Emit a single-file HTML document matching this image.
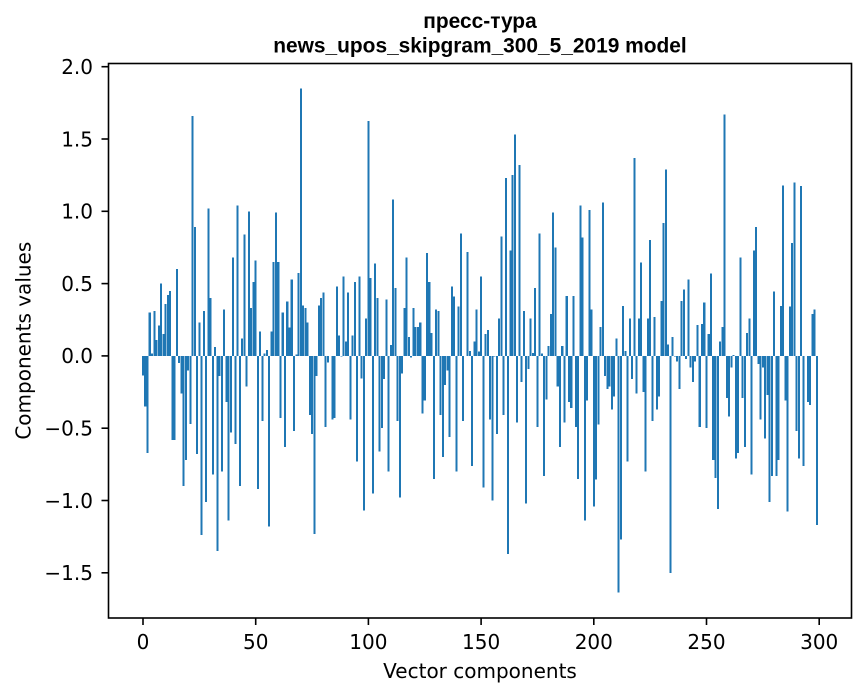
<!DOCTYPE html>
<html><head><meta charset="utf-8"><style>
html,body{margin:0;padding:0;background:#fff;}
svg{display:block;}
text{font-family:"DejaVu Sans","Liberation Sans",sans-serif;fill:#000;}
.t{font-family:"Liberation Sans","DejaVu Sans",sans-serif;font-weight:bold;font-size:20.9px;}
</style></head><body>
<svg width="867" height="696" viewBox="0 0 867 696" xmlns="http://www.w3.org/2000/svg">
<rect x="0" y="0" width="867" height="696" fill="#fff"/>
<g transform="translate(143,355.9) scale(2.254,-144.6)" fill="#1f77b4" shape-rendering="crispEdges">
<g transform="translate(-0.05,0)">
<rect x="-0.4" y="-0.136" width="0.9" height="0.136"/>
<rect x="0.6" y="-0.35" width="0.9" height="0.35"/>
<rect x="1.6" y="-0.67" width="0.9" height="0.67"/>
<rect x="2.6" width="0.9" height="0.30"/>
<rect x="3.6" width="0.9" height="0.015"/>
<rect x="4.6" width="0.9" height="0.31"/>
<rect x="5.6" width="0.9" height="0.11"/>
<rect x="6.6" width="0.9" height="0.21"/>
<rect x="7.6" width="0.9" height="0.50"/>
<rect x="8.6" width="0.9" height="0.15"/>
<rect x="9.6" width="0.9" height="0.36"/>
<rect x="10.6" width="0.9" height="0.42"/>
<rect x="11.6" width="0.9" height="0.45"/>
<rect x="12.6" y="-0.58" width="0.9" height="0.58"/>
<rect x="13.6" y="-0.58" width="0.9" height="0.58"/>
<rect x="14.6" width="0.9" height="0.60"/>
<rect x="15.6" y="-0.05" width="0.9" height="0.05"/>
<rect x="16.6" y="-0.26" width="0.9" height="0.26"/>
<rect x="17.6" y="-0.90" width="0.9" height="0.90"/>
<rect x="18.6" y="-0.72" width="0.9" height="0.72"/>
<rect x="19.6" y="-0.10" width="0.9" height="0.10"/>
<rect x="20.6" y="-0.47" width="0.9" height="0.47"/>
<rect x="21.6" width="0.9" height="1.66"/>
<rect x="22.6" width="0.9" height="0.89"/>
<rect x="23.6" y="-0.68" width="0.9" height="0.68"/>
<rect x="24.6" width="0.9" height="0.23"/>
<rect x="25.6" y="-1.24" width="0.9" height="1.24"/>
<rect x="26.6" width="0.9" height="0.31"/>
<rect x="27.6" y="-1.01" width="0.9" height="1.01"/>
<rect x="28.6" width="0.9" height="1.02"/>
<rect x="29.6" width="0.9" height="0.40"/>
<rect x="30.6" y="-0.82" width="0.9" height="0.82"/>
<rect x="31.6" width="0.9" height="0.06"/>
<rect x="32.6" y="-1.35" width="0.9" height="1.35"/>
<rect x="33.6" y="-0.14" width="0.9" height="0.14"/>
<rect x="34.6" y="-0.80" width="0.9" height="0.80"/>
<rect x="35.6" width="0.9" height="0.32"/>
<rect x="36.6" y="-0.32" width="0.9" height="0.32"/>
<rect x="37.6" y="-1.14" width="0.9" height="1.14"/>
<rect x="38.6" y="-0.53" width="0.9" height="0.53"/>
<rect x="39.6" width="0.9" height="0.68"/>
<rect x="40.6" y="-0.61" width="0.9" height="0.61"/>
<rect x="41.6" width="0.9" height="1.04"/>
<rect x="42.6" y="-0.90" width="0.9" height="0.90"/>
<rect x="43.6" width="0.9" height="0.12"/>
<rect x="44.6" width="0.9" height="0.84"/>
<rect x="45.6" y="-0.21" width="0.9" height="0.21"/>
<rect x="46.6" width="0.9" height="1.00"/>
<rect x="47.6" width="0.9" height="0.33"/>
<rect x="48.6" width="0.9" height="0.51"/>
<rect x="49.6" width="0.9" height="0.66"/>
<rect x="50.6" y="-0.92" width="0.9" height="0.92"/>
<rect x="51.6" width="0.9" height="0.17"/>
<rect x="52.6" y="-0.45" width="0.9" height="0.45"/>
<rect x="53.6" width="0.9" height="0.015"/>
<rect x="54.6" width="0.9" height="0.04"/>
<rect x="55.6" y="-1.18" width="0.9" height="1.18"/>
<rect x="56.6" width="0.9" height="0.17"/>
<rect x="57.6" width="0.9" height="0.65"/>
<rect x="58.6" width="0.9" height="0.99"/>
<rect x="59.6" width="0.9" height="0.65"/>
<rect x="60.6" y="-0.43" width="0.9" height="0.43"/>
<rect x="61.6" width="0.9" height="0.30"/>
<rect x="62.6" y="-0.63" width="0.9" height="0.63"/>
<rect x="63.6" width="0.9" height="0.375"/>
<rect x="64.6" width="0.9" height="0.195"/>
<rect x="65.6" width="0.9" height="0.53"/>
<rect x="66.6" y="-0.52" width="0.9" height="0.52"/>
<rect x="67.6" width="0.9" height="0.01"/>
<rect x="68.6" width="0.9" height="0.575"/>
<rect x="69.6" width="0.9" height="1.85"/>
<rect x="70.6" width="0.9" height="0.35"/>
<rect x="71.6" width="0.9" height="0.33"/>
<rect x="72.6" width="0.9" height="0.23"/>
<rect x="73.6" y="-0.41" width="0.9" height="0.41"/>
<rect x="74.6" y="-0.54" width="0.9" height="0.54"/>
<rect x="75.6" y="-1.23" width="0.9" height="1.23"/>
<rect x="76.6" y="-0.14" width="0.9" height="0.14"/>
<rect x="77.6" width="0.9" height="0.35"/>
<rect x="78.6" width="0.9" height="0.40"/>
<rect x="79.6" width="0.9" height="0.44"/>
<rect x="80.6" y="-0.49" width="0.9" height="0.49"/>
<rect x="81.6" y="-0.045" width="0.9" height="0.045"/>
<rect x="83.6" y="-0.44" width="0.9" height="0.44"/>
<rect x="84.6" y="-0.43" width="0.9" height="0.43"/>
<rect x="85.6" width="0.9" height="0.48"/>
<rect x="86.6" width="0.9" height="0.14"/>
<rect x="87.6" y="-0.005" width="0.9" height="0.005"/>
<rect x="88.6" width="0.9" height="0.55"/>
<rect x="89.6" width="0.9" height="0.10"/>
<rect x="90.6" width="0.9" height="0.44"/>
<rect x="91.6" y="-0.44" width="0.9" height="0.44"/>
<rect x="92.6" width="0.9" height="0.14"/>
<rect x="93.6" width="0.9" height="0.51"/>
<rect x="94.6" y="-0.73" width="0.9" height="0.73"/>
<rect x="95.6" width="0.9" height="0.55"/>
<rect x="96.6" y="-0.155" width="0.9" height="0.155"/>
<rect x="97.6" y="-1.07" width="0.9" height="1.07"/>
<rect x="98.6" width="0.9" height="0.26"/>
<rect x="99.6" width="0.9" height="1.625"/>
<rect x="100.6" width="0.9" height="0.54"/>
<rect x="101.6" y="-0.95" width="0.9" height="0.95"/>
<rect x="102.6" width="0.9" height="0.64"/>
<rect x="103.6" width="0.9" height="0.40"/>
<rect x="104.6" y="-0.66" width="0.9" height="0.66"/>
<rect x="105.6" y="-0.50" width="0.9" height="0.50"/>
<rect x="106.6" y="-0.16" width="0.9" height="0.16"/>
<rect x="107.6" width="0.9" height="0.39"/>
<rect x="108.6" y="-0.80" width="0.9" height="0.80"/>
<rect x="109.6" width="0.9" height="0.077"/>
<rect x="110.6" width="0.9" height="1.08"/>
<rect x="111.6" width="0.9" height="0.47"/>
<rect x="112.6" y="-0.45" width="0.9" height="0.45"/>
<rect x="113.6" y="-0.98" width="0.9" height="0.98"/>
<rect x="114.6" y="-0.12" width="0.9" height="0.12"/>
<rect x="115.6" width="0.9" height="0.33"/>
<rect x="116.6" width="0.9" height="0.68"/>
<rect x="117.6" width="0.9" height="0.13"/>
<rect x="118.6" y="-0.01" width="0.9" height="0.01"/>
<rect x="119.6" width="0.9" height="0.33"/>
<rect x="120.6" width="0.9" height="0.20"/>
<rect x="121.6" width="0.9" height="0.20"/>
<rect x="122.6" width="0.9" height="0.23"/>
<rect x="123.6" y="-0.40" width="0.9" height="0.40"/>
<rect x="124.6" y="-0.31" width="0.9" height="0.31"/>
<rect x="125.6" width="0.9" height="0.71"/>
<rect x="126.6" width="0.9" height="0.51"/>
<rect x="127.6" width="0.9" height="0.16"/>
<rect x="128.6" y="-0.85" width="0.9" height="0.85"/>
<rect x="129.6" width="0.9" height="0.32"/>
<rect x="130.6" width="0.9" height="0.31"/>
<rect x="131.6" y="-0.41" width="0.9" height="0.41"/>
<rect x="132.6" y="-0.70" width="0.9" height="0.70"/>
<rect x="133.6" y="-0.20" width="0.9" height="0.20"/>
<rect x="134.6" y="-0.10" width="0.9" height="0.10"/>
<rect x="135.6" y="-0.56" width="0.9" height="0.56"/>
<rect x="136.6" width="0.9" height="0.48"/>
<rect x="137.6" width="0.9" height="0.41"/>
<rect x="138.6" y="-0.80" width="0.9" height="0.80"/>
<rect x="139.6" width="0.9" height="0.34"/>
<rect x="140.6" width="0.9" height="0.845"/>
<rect x="141.6" y="-0.45" width="0.9" height="0.45"/>
<rect x="143.6" width="0.9" height="0.72"/>
<rect x="144.6" width="0.9" height="0.035"/>
<rect x="145.6" y="-0.76" width="0.9" height="0.76"/>
<rect x="146.6" width="0.9" height="0.10"/>
<rect x="147.6" width="0.9" height="0.32"/>
<rect x="148.6" width="0.9" height="0.03"/>
<rect x="149.6" width="0.9" height="0.55"/>
<rect x="150.6" y="-0.91" width="0.9" height="0.91"/>
<rect x="151.6" width="0.9" height="0.15"/>
<rect x="152.6" width="0.9" height="0.18"/>
<rect x="153.6" y="-0.44" width="0.9" height="0.44"/>
<rect x="154.6" y="-1.00" width="0.9" height="1.00"/>
<rect x="155.6" y="-0.005" width="0.9" height="0.005"/>
<rect x="156.6" y="-0.54" width="0.9" height="0.54"/>
<rect x="157.6" width="0.9" height="0.26"/>
<rect x="158.6" width="0.9" height="0.825"/>
<rect x="159.6" y="-0.41" width="0.9" height="0.41"/>
<rect x="160.6" width="0.9" height="1.23"/>
<rect x="161.6" y="-1.37" width="0.9" height="1.37"/>
<rect x="162.6" width="0.9" height="0.73"/>
<rect x="163.6" width="0.9" height="1.25"/>
<rect x="164.6" width="0.9" height="1.53"/>
<rect x="165.6" y="-0.46" width="0.9" height="0.46"/>
<rect x="166.6" width="0.9" height="1.32"/>
<rect x="167.6" y="-0.18" width="0.9" height="0.18"/>
<rect x="168.6" width="0.9" height="0.31"/>
<rect x="169.6" y="-1.02" width="0.9" height="1.02"/>
<rect x="170.6" y="-0.09" width="0.9" height="0.09"/>
<rect x="171.6" width="0.9" height="0.26"/>
<rect x="172.6" width="0.9" height="0.02"/>
<rect x="173.6" width="0.9" height="0.47"/>
<rect x="174.6" y="-0.49" width="0.9" height="0.49"/>
<rect x="175.6" width="0.9" height="0.845"/>
<rect x="176.6" width="0.9" height="0.015"/>
<rect x="177.6" y="-0.83" width="0.9" height="0.83"/>
<rect x="178.6" y="-0.30" width="0.9" height="0.30"/>
<rect x="179.6" width="0.9" height="0.07"/>
<rect x="180.6" width="0.9" height="0.29"/>
<rect x="181.6" width="0.9" height="0.99"/>
<rect x="182.6" width="0.9" height="0.75"/>
<rect x="183.6" y="-0.21" width="0.9" height="0.21"/>
<rect x="184.6" y="-0.63" width="0.9" height="0.63"/>
<rect x="185.6" width="0.9" height="0.07"/>
<rect x="186.6" y="-0.46" width="0.9" height="0.46"/>
<rect x="187.6" width="0.9" height="0.415"/>
<rect x="188.6" y="-0.32" width="0.9" height="0.32"/>
<rect x="189.6" y="-0.36" width="0.9" height="0.36"/>
<rect x="190.6" width="0.9" height="0.415"/>
<rect x="191.6" y="-0.49" width="0.9" height="0.49"/>
<rect x="192.6" y="-0.85" width="0.9" height="0.85"/>
<rect x="193.6" width="0.9" height="1.04"/>
<rect x="194.6" width="0.9" height="0.82"/>
<rect x="195.6" y="-1.14" width="0.9" height="1.14"/>
<rect x="196.6" y="-0.31" width="0.9" height="0.31"/>
<rect x="197.6" width="0.9" height="1.01"/>
<rect x="198.6" width="0.9" height="0.32"/>
<rect x="199.6" y="-1.04" width="0.9" height="1.04"/>
<rect x="200.6" y="-0.855" width="0.9" height="0.855"/>
<rect x="201.6" y="-0.475" width="0.9" height="0.475"/>
<rect x="202.6" width="0.9" height="0.20"/>
<rect x="203.6" width="0.9" height="1.06"/>
<rect x="204.6" y="-0.14" width="0.9" height="0.14"/>
<rect x="205.6" y="-0.23" width="0.9" height="0.23"/>
<rect x="206.6" y="-0.21" width="0.9" height="0.21"/>
<rect x="207.6" y="-0.37" width="0.9" height="0.37"/>
<rect x="208.6" y="-0.28" width="0.9" height="0.28"/>
<rect x="209.6" width="0.9" height="0.12"/>
<rect x="210.6" y="-1.635" width="0.9" height="1.635"/>
<rect x="211.6" y="-1.27" width="0.9" height="1.27"/>
<rect x="212.6" width="0.9" height="0.345"/>
<rect x="213.6" width="0.9" height="0.035"/>
<rect x="214.6" y="-0.73" width="0.9" height="0.73"/>
<rect x="215.6" width="0.9" height="0.26"/>
<rect x="216.6" y="-0.16" width="0.9" height="0.16"/>
<rect x="217.6" width="0.9" height="1.37"/>
<rect x="218.6" y="-0.26" width="0.9" height="0.26"/>
<rect x="219.6" width="0.9" height="0.26"/>
<rect x="220.6" width="0.9" height="0.645"/>
<rect x="221.6" y="-0.25" width="0.9" height="0.25"/>
<rect x="222.6" y="-0.80" width="0.9" height="0.80"/>
<rect x="223.6" width="0.9" height="0.26"/>
<rect x="224.6" width="0.9" height="0.80"/>
<rect x="225.6" y="-0.45" width="0.9" height="0.45"/>
<rect x="226.6" width="0.9" height="0.27"/>
<rect x="227.6" y="-0.37" width="0.9" height="0.37"/>
<rect x="228.6" y="-0.28" width="0.9" height="0.28"/>
<rect x="229.6" width="0.9" height="0.38"/>
<rect x="230.6" width="0.9" height="0.92"/>
<rect x="231.6" width="0.9" height="1.29"/>
<rect x="232.6" width="0.9" height="0.08"/>
<rect x="233.6" y="-1.50" width="0.9" height="1.50"/>
<rect x="234.6" width="0.9" height="0.13"/>
<rect x="235.6" y="-0.005" width="0.9" height="0.005"/>
<rect x="236.6" y="-0.04" width="0.9" height="0.04"/>
<rect x="237.6" y="-0.23" width="0.9" height="0.23"/>
<rect x="238.6" width="0.9" height="0.38"/>
<rect x="239.6" width="0.9" height="0.46"/>
<rect x="240.6" y="-0.02" width="0.9" height="0.02"/>
<rect x="241.6" width="0.9" height="0.53"/>
<rect x="242.6" y="-0.08" width="0.9" height="0.08"/>
<rect x="243.6" y="-0.18" width="0.9" height="0.18"/>
<rect x="244.6" y="-0.04" width="0.9" height="0.04"/>
<rect x="245.6" width="0.9" height="0.215"/>
<rect x="246.6" y="-0.49" width="0.9" height="0.49"/>
<rect x="247.6" width="0.9" height="0.22"/>
<rect x="248.6" width="0.9" height="0.37"/>
<rect x="249.6" y="-0.50" width="0.9" height="0.50"/>
<rect x="250.6" width="0.9" height="0.15"/>
<rect x="251.6" width="0.9" height="0.57"/>
<rect x="252.6" y="-0.72" width="0.9" height="0.72"/>
<rect x="253.6" y="-0.845" width="0.9" height="0.845"/>
<rect x="254.6" y="-1.06" width="0.9" height="1.06"/>
<rect x="255.6" width="0.9" height="0.10"/>
<rect x="256.6" width="0.9" height="0.20"/>
<rect x="257.6" width="0.9" height="1.67"/>
<rect x="258.6" y="-0.29" width="0.9" height="0.29"/>
<rect x="259.6" y="-0.42" width="0.9" height="0.42"/>
<rect x="260.6" y="-0.08" width="0.9" height="0.08"/>
<rect x="261.6" width="0.9" height="0.007"/>
<rect x="262.6" y="-0.71" width="0.9" height="0.71"/>
<rect x="263.6" y="-0.67" width="0.9" height="0.67"/>
<rect x="264.6" width="0.9" height="0.68"/>
<rect x="265.6" y="-0.29" width="0.9" height="0.29"/>
<rect x="266.6" y="-0.63" width="0.9" height="0.63"/>
<rect x="267.6" width="0.9" height="0.16"/>
<rect x="268.6" width="0.9" height="0.26"/>
<rect x="269.6" y="-0.82" width="0.9" height="0.82"/>
<rect x="270.6" width="0.9" height="0.73"/>
<rect x="271.6" width="0.9" height="0.89"/>
<rect x="272.6" y="-0.055" width="0.9" height="0.055"/>
<rect x="273.6" y="-0.44" width="0.9" height="0.44"/>
<rect x="274.6" y="-0.08" width="0.9" height="0.08"/>
<rect x="275.6" y="-0.57" width="0.9" height="0.57"/>
<rect x="276.6" y="-0.27" width="0.9" height="0.27"/>
<rect x="277.6" y="-1.01" width="0.9" height="1.01"/>
<rect x="278.6" y="-0.83" width="0.9" height="0.83"/>
<rect x="279.6" width="0.9" height="0.445"/>
<rect x="280.6" y="-0.83" width="0.9" height="0.83"/>
<rect x="281.6" y="-0.72" width="0.9" height="0.72"/>
<rect x="282.6" width="0.9" height="0.345"/>
<rect x="283.6" width="0.9" height="1.18"/>
<rect x="284.6" y="-0.31" width="0.9" height="0.31"/>
<rect x="285.6" y="-1.075" width="0.9" height="1.075"/>
<rect x="286.6" width="0.9" height="0.34"/>
<rect x="287.6" width="0.9" height="0.78"/>
<rect x="288.6" width="0.9" height="1.20"/>
<rect x="289.6" y="-0.52" width="0.9" height="0.52"/>
<rect x="290.6" y="-0.71" width="0.9" height="0.71"/>
<rect x="291.6" width="0.9" height="1.175"/>
<rect x="292.6" y="-0.76" width="0.9" height="0.76"/>
<rect x="294.6" y="-0.32" width="0.9" height="0.32"/>
<rect x="295.6" y="-0.34" width="0.9" height="0.34"/>
<rect x="296.6" width="0.9" height="0.29"/>
<rect x="297.6" width="0.9" height="0.32"/>
<rect x="298.6" y="-1.17" width="0.9" height="1.17"/>
</g>
</g>
<!-- spines -->
<rect x="108.5" y="63.5" width="743" height="554.5" fill="none" stroke="#000" stroke-width="1.6"/>
<!-- ticks -->
<g stroke="#000" stroke-width="1.6">
<line x1="101.5" y1="66.7" x2="108.5" y2="66.7"/>
<line x1="101.5" y1="139" x2="108.5" y2="139"/>
<line x1="101.5" y1="211.3" x2="108.5" y2="211.3"/>
<line x1="101.5" y1="283.6" x2="108.5" y2="283.6"/>
<line x1="101.5" y1="355.9" x2="108.5" y2="355.9"/>
<line x1="101.5" y1="428.2" x2="108.5" y2="428.2"/>
<line x1="101.5" y1="500.5" x2="108.5" y2="500.5"/>
<line x1="101.5" y1="572.8" x2="108.5" y2="572.8"/>
<line x1="143" y1="618" x2="143" y2="625"/>
<line x1="255.7" y1="618" x2="255.7" y2="625"/>
<line x1="368.4" y1="618" x2="368.4" y2="625"/>
<line x1="481.1" y1="618" x2="481.1" y2="625"/>
<line x1="593.8" y1="618" x2="593.8" y2="625"/>
<line x1="706.5" y1="618" x2="706.5" y2="625"/>
<line x1="819.2" y1="618" x2="819.2" y2="625"/>
</g>
<g font-size="20" text-anchor="end">
<text x="93" y="74">2.0</text>
<text x="93" y="146.3">1.5</text>
<text x="93" y="218.6">1.0</text>
<text x="93" y="290.9">0.5</text>
<text x="93" y="363.2">0.0</text>
<text x="93" y="435.5">−0.5</text>
<text x="93" y="507.8">−1.0</text>
<text x="93" y="580.1">−1.5</text>
</g>
<g font-size="20" text-anchor="middle">
<text x="143" y="649">0</text>
<text x="255.7" y="649">50</text>
<text x="368.4" y="649">100</text>
<text x="481.1" y="649">150</text>
<text x="593.8" y="649">200</text>
<text x="706.5" y="649">250</text>
<text x="819.2" y="649">300</text>
<text x="480" y="678">Vector components</text>
<text transform="translate(30.5,340.7) rotate(-90)">Components values</text>
</g>
<text class="t" x="480" y="28" text-anchor="middle">пресс-тура</text>
<text class="t" x="480" y="52.5" text-anchor="middle">news_upos_skipgram_300_5_2019 model</text>
</svg>
</body></html>
